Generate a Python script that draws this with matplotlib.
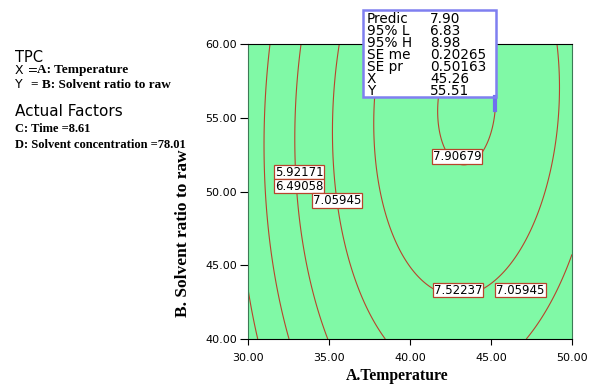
import numpy as np
import matplotlib
matplotlib.use("Agg")
import matplotlib.pyplot as plt

# quadratic response surface for TPC over temperature (x) and solvent ratio (y)
# terms: const, x, y, x^2, y^2, x*y  (time and solvent concentration held fixed)
coef = [-22.153127, 1.0758481, 0.24017488, -0.013076251, -0.0025810049, 0.001104125]

levels = [5.35284, 5.92171, 6.49058, 7.05945, 7.52237, 7.90679]
x_ticks = [30, 35, 40, 45, 50]
y_ticks = [40, 45, 50, 55, 60]

# where the contour values were pinned: (x, y, index into levels)
label_pos = [(33.15, 51.32, 1), (33.15, 50.37, 2), (35.48, 49.36, 3),
             (42.90, 52.36, 5), (42.96, 43.32, 4), (46.82, 43.32, 3)]

pred_names = ["Predic", "95% L", "95% H", "SE me", "SE pr", "X", "Y"]
pred_vals = ["7.90", "6.83", "8.98", "0.20265", "0.50163", "45.26", "55.51"]

line_col = "#b8442c"
serif = ["Liberation Serif", "DejaVu Serif"]

fig = plt.figure(figsize=(5.95, 3.85), dpi=100)
ax = fig.add_axes([248 / 595, 1 - 339 / 385, 324 / 595, 295 / 385])
ax.set_facecolor("#80f9a6")

gx, gy = np.meshgrid(np.linspace(30, 50, 241), np.linspace(40, 60, 241))
gz = (coef[0] + coef[1] * gx + coef[2] * gy + coef[3] * gx ** 2
      + coef[4] * gy ** 2 + coef[5] * gx * gy)
ax.contour(gx, gy, gz, levels=levels, colors=line_col, linewidths=0.8)

ax.set_xlim(30, 50)
ax.set_ylim(40, 60)
ax.set_xticks(x_ticks)
ax.set_yticks(y_ticks)
ax.set_xticklabels(["%.2f" % v for v in x_ticks])
ax.set_yticklabels(["%.2f" % v for v in y_ticks])
ax.tick_params(axis="x", direction="out", length=4.3, pad=6, labelsize=8)
ax.tick_params(axis="y", direction="out", length=6, pad=2, labelsize=8)
for side in ["left", "right"]:
    ax.spines[side].set_color("#3c7a55")

ax.set_xlabel("A.Temperature", fontsize=11.3, fontweight="bold", family=serif)
ax.xaxis.set_label_coords(0.46, -0.10)
ax.set_ylabel("B. Solvent ratio to raw", fontsize=12.5, fontweight="bold", family=serif)
ax.yaxis.set_label_coords(-0.176, 0.36)

for lx, ly, i in label_pos:
    ax.text(lx, ly, "%.5f" % levels[i], fontsize=8.5, ha="center", va="center",
            bbox=dict(boxstyle="square,pad=0.08", fc="white", ec=line_col, lw=0.9))

# side legend
fig.text(15 / 595, 1 - 57.5 / 385, "TPC", fontsize=10.5, va="center")
fig.text(15 / 595, 1 - 70.5 / 385, "X =", fontsize=9, va="center")
fig.text(37 / 595, 1 - 70.5 / 385, "A: Temperature", fontsize=9.5, va="center",
         family=serif, fontweight="bold")
fig.text(15 / 595, 1 - 84.7 / 385, "Y", fontsize=9, va="center")
fig.text(31 / 595, 1 - 84.7 / 385, "= B: Solvent ratio to raw", fontsize=9.5,
         va="center", family=serif, fontweight="bold")
fig.text(15 / 595, 1 - 111 / 385, "Actual Factors", fontsize=11, va="center")
fig.text(15 / 595, 1 - 129 / 385, "C: Time =8.61", fontsize=9, va="center",
         family=serif, fontweight="bold")
fig.text(15 / 595, 1 - 145 / 385, "D: Solvent concentration =78.01", fontsize=9,
         va="center", family=serif, fontweight="bold")

# prediction readout, two tightly spaced columns
bx, by, bw, bh = 363 / 595, 1 - 97 / 385, 133 / 595, 87 / 385
fig.patches.append(plt.Rectangle((bx, by), bw, bh, transform=fig.transFigure,
                                 fc="white", ec="none", zorder=5))
fig.text(367 / 595, 1 - 12 / 385, "\n".join(pred_names), fontsize=9.8, va="top",
         linespacing=0.815, zorder=6)
fig.text(430 / 595, 1 - 12 / 385, "\n".join(pred_vals), fontsize=9.8, va="top",
         linespacing=0.815, zorder=6)
fig.patches.append(plt.Rectangle((bx, by), bw, bh, transform=fig.transFigure,
                                 fc="none", ec="#7f7ff0", lw=1.8, zorder=7))
fig.lines.append(plt.Line2D([495 / 595, 495 / 595], [1 - 97 / 385, 1 - 110 / 385],
                            transform=fig.transFigure, color="#6f6ff0", lw=3, zorder=7))

fig.savefig("out.png", dpi=100)
